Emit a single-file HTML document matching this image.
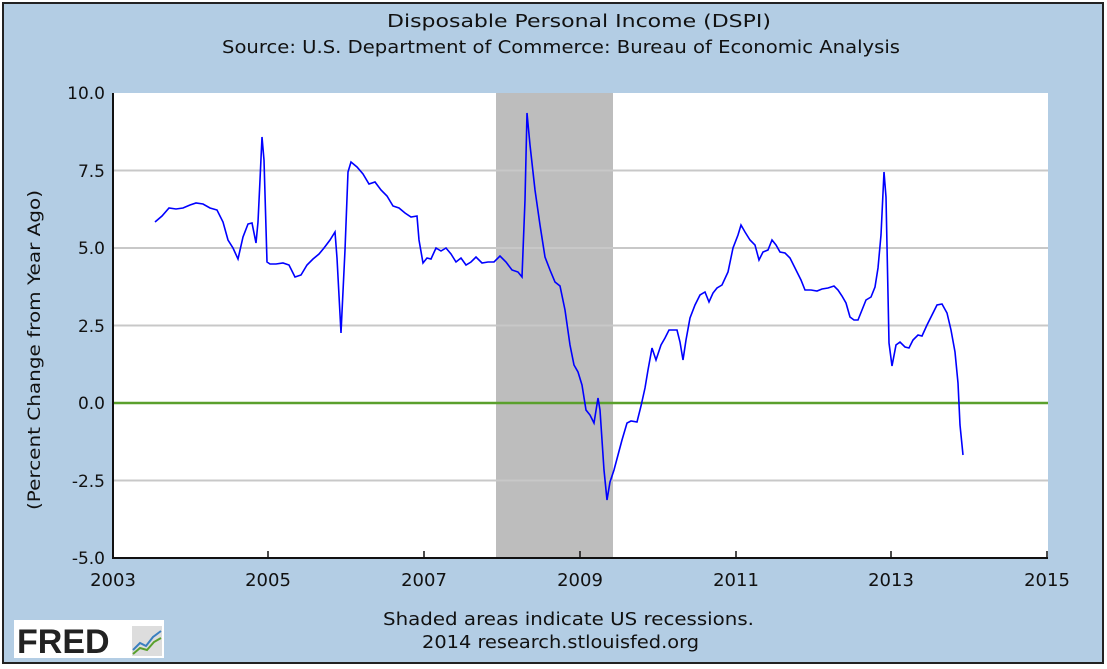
<!DOCTYPE html>
<html><head><meta charset="utf-8"><style>
body{margin:0;background:#fff}
svg{display:block}
</style></head><body>
<svg width="1107" height="669" xmlns="http://www.w3.org/2000/svg" font-family="DejaVu Sans, Liberation Sans, sans-serif">
<rect x="0" y="0" width="1107" height="669" fill="#fff"/>
<rect x="3" y="3" width="1100" height="660" fill="#b3cde4" stroke="#222" stroke-width="2"/>
<text x="387" y="27" font-size="18" textLength="384" lengthAdjust="spacingAndGlyphs" fill="#111">Disposable Personal Income (DSPI)</text>
<text x="222" y="53" font-size="18" textLength="678" lengthAdjust="spacingAndGlyphs" fill="#111">Source: U.S. Department of Commerce: Bureau of Economic Analysis</text>
<rect x="113" y="93" width="935" height="465" fill="#fff"/>
<rect x="496" y="93" width="117" height="465" fill="#bdbdbd"/>
<g stroke="#c8c8c8" stroke-width="2">
<line x1="113" y1="170.5" x2="1048" y2="170.5"/><line x1="113" y1="248" x2="1048" y2="248"/><line x1="113" y1="325.5" x2="1048" y2="325.5"/><line x1="113" y1="480.5" x2="1048" y2="480.5"/>
</g>
<line x1="113" y1="403" x2="1048" y2="403" stroke="#5aa02c" stroke-width="2.5"/>
<polyline fill="none" stroke="#0000ff" stroke-width="1.6" points="155,222 162,216 169,208 176,209 183,208 190,205 196,203 203,204 210,208 217,210 223,222 228,240 233,248 238,259 243,237 248,224 252,223 256,243 258,222 260,180 262,137 264,160 267,262 270,264 276,264 283,263 289,265 295,277 301,275 307,265 313,259 319,254 324,248 330,240 335,232 337,258 341,333 345,250 348,172 351,162 357,167 363,174 369,184 375,182 381,190 387,196 393,206 399,208 405,213 411,217 417,216 419,240 423,263 427,258 431,259 436,248 441,251 446,248 451,254 456,262 461,258 466,265 471,262 476,257 482,263 488,262 494,262 500,256 506,262 512,270 518,272 522,277 525,200 527,113 530,145 535,190 540,225 545,257 550,270 555,282 560,286 565,310 570,345 574,365 578,372 582,385 586,410 590,415 594,423 598,398 600,410 604,470 607,500 610,482 614,470 618,455 622,440 627,423 631,421 637,422 641,406 645,388 648,370 652,348 656,360 661,345 665,338 669,330 673,330 677,330 680,342 683,360 686,340 690,318 695,305 700,295 705,292 709,302 713,293 717,288 722,285 728,272 733,248 738,235 741,225 745,232 750,240 755,245 759,260 763,252 768,250 772,240 776,245 780,252 785,253 790,258 796,270 801,280 805,290 811,290 817,291 822,289 828,288 834,286 838,290 842,296 846,303 850,317 854,320 858,320 862,310 866,300 871,297 875,287 878,268 881,235 884,172 886,197 889,343 892,366 896,345 900,342 905,347 909,348 913,340 918,335 922,336 927,325 932,315 937,305 942,304 947,313 951,330 955,352 958,383 960,425 963,455"/>
<g stroke="#111" stroke-width="2"><line x1="113" y1="93" x2="113" y2="558"/><line x1="112" y1="558" x2="1048" y2="558"/></g>
<g stroke="#111" stroke-width="1.5">
<line x1="268" y1="558" x2="268" y2="551"/><line x1="424" y1="558" x2="424" y2="551"/><line x1="580" y1="558" x2="580" y2="551"/><line x1="736" y1="558" x2="736" y2="551"/><line x1="891" y1="558" x2="891" y2="551"/><line x1="1047" y1="558" x2="1047" y2="551"/>
</g>
<g font-size="17" fill="#111" text-anchor="end">
<text x="105" y="99">10.0</text><text x="105" y="177">7.5</text><text x="105" y="254">5.0</text><text x="105" y="332">2.5</text><text x="105" y="409">0.0</text><text x="105" y="487">-2.5</text><text x="105" y="564">-5.0</text>
</g>
<g font-size="18" fill="#111" text-anchor="middle">
<text x="113" y="586">2003</text><text x="268" y="586">2005</text><text x="424" y="586">2007</text><text x="580" y="586">2009</text><text x="736" y="586">2011</text><text x="891" y="586">2013</text><text x="1047" y="586">2015</text>
</g>
<text transform="translate(40,510) rotate(-90)" font-size="17" textLength="320" lengthAdjust="spacingAndGlyphs" fill="#111">(Percent Change from Year Ago)</text>
<text x="383" y="625" font-size="18" textLength="371" lengthAdjust="spacingAndGlyphs" fill="#111">Shaded areas indicate US recessions.</text>
<text x="422" y="648" font-size="18" textLength="277" lengthAdjust="spacingAndGlyphs" fill="#111">2014 research.stlouisfed.org</text>
<rect x="14" y="620" width="150" height="38" fill="#fff"/>
<text x="17" y="653" font-size="34" font-weight="bold" font-family="Liberation Sans, sans-serif" fill="#222">FRED</text>
<rect x="132" y="626" width="30" height="30" fill="#ddd"/>
<polyline points="133,650 140,643 146,646 153,637 161,631" fill="none" stroke="#3a7fc0" stroke-width="2"/>
<polyline points="133,654 140,648 147,650 154,642 161,638" fill="none" stroke="#5aa02c" stroke-width="2"/>
</svg>
</body></html>
